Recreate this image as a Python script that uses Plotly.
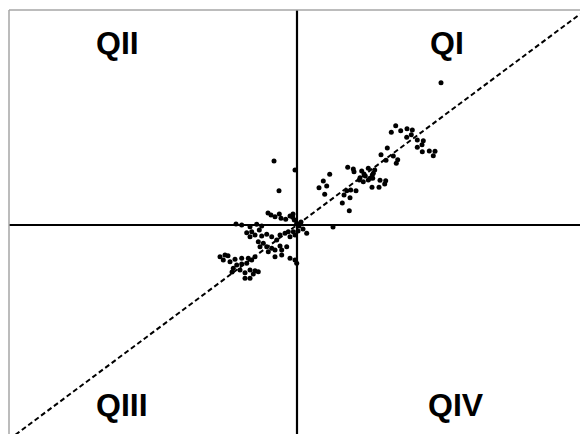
import plotly.graph_objects as go

# Scatter data (x, y)
x_vals = [
    9.87, 9.43, 10.37, 11.0, 11.53, 10.97, 11.43, 12.03, 12.63, 12.5, 12.03, 12.53, 13.23, 13.8, 13.63,
    9.03, 8.4, 8.9, 9.63, 10.07, 9.93,
    5.07, 5.63, 5.7, 6.47, 7.13, 7.77, 7.63, 6.3, 6.83, 6.23, 6.63, 7.13, 7.57, 8.3, 8.87, 8.77, 8.2, 7.5,
    6.7, 7.3, 7.53,
    3.27, 2.63, 2.97, 2.2, 2.77, 4.97, 5.37, 5.9, 4.7, 5.3, 4.53, 5.23,
    14.4,
    -2.3, -0.2, -1.8, 3.6, 0.97,
    -2.9, -2.6, -2.2, -1.77, -1.6, -1.13, -0.7, -0.43, -0.27, -0.03, -0.4,
    -6.1, -5.53, -4.7, -4.03, -3.53,
    0.2, 0.4, 0.6, 0.1,
    -5.03, -4.53, -3.77, -4.2, -3.53, -3.03, -2.53, -2.03, -1.7, -1.2, -0.87, -0.7, -0.37, -0.2, -4.7,
    -3.87, -3.37, -3.7, -3.03, -2.53, -2.87, -2.2, -1.7, -1.53, -1.03, -1.53, -2.2, -0.7, -0.2, -0.03,
    -7.7, -7.2, -6.9, -7.37, -6.7, -6.2, -5.53, -4.87, -4.53, -4.2,
    -6.03, -5.53, -5.03, -6.37, -5.7, -5.2, -4.7, -4.2, -3.87, -4.37, -4.7, -5.2, -6.5,
]
y_vals = [
    9.93, 9.27, 9.43, 9.63, 9.5, 8.77, 9.03, 8.5, 8.43, 8.03, 7.77, 7.33, 7.4, 7.37, 6.93,
    7.7, 7.03, 6.47, 6.9, 6.53, 6.17,
    5.77, 5.6, 5.33, 5.4, 5.67, 5.5, 5.17, 4.73, 4.9, 4.5, 4.33, 4.5, 4.67, 4.47, 4.43, 4.1, 3.77, 3.77,
    5.1, 4.67, 5.0,
    5.07, 4.4, 3.9, 3.73, 3.07, 3.43, 3.5, 3.43, 3.0, 2.73, 2.2, 1.43,
    14.23,
    6.4, 5.5, 3.43, -0.2, -0.83,
    1.2, 1.0, 0.83, 1.1, 0.67, 0.57, 0.9, 0.77, 0.5, 0.17, 1.1,
    0.1, 0.0, -0.17, 0.07, -0.1,
    -0.1, 0.3, -0.4, -0.6,
    -0.77, -0.67, -0.5, -1.0, -1.1, -0.93, -1.17, -1.5, -1.0, -0.83, -0.67, -1.17, -0.67, -1.0, -1.17,
    -1.67, -1.83, -2.17, -2.17, -2.33, -2.67, -2.5, -2.1, -2.5, -2.17, -3.0, -3.17, -3.33, -3.5, -3.83,
    -3.17, -3.0, -3.07, -3.5, -3.67, -3.43, -3.33, -3.33, -3.5, -3.17,
    -4.0, -3.9, -3.83, -4.33, -4.5, -4.77, -4.5, -4.57, -4.67, -4.9, -5.33, -5.33, -4.7,
]

fit_slope = 0.745

quad_labels = ["QI", "QII", "QIII", "QIV"]
quad_x = [15.0, -18.0, -17.5, 15.9]
quad_y = [18.2, 18.2, -18.0, -18.0]

x_range = [-28.8, 28.3]
y_range = [-20.9, 21.5]

fig = go.Figure()

fig.add_trace(go.Scatter(
    x=[x_range[0], x_range[1]],
    y=[fit_slope * x_range[0], fit_slope * x_range[1]],
    mode="lines",
    line=dict(color="black", width=2, dash="5px,3px"),
    hoverinfo="skip",
))

fig.add_trace(go.Scatter(
    x=x_vals, y=y_vals, mode="markers",
    marker=dict(color="black", size=5, line=dict(width=0)),
))

shapes = [
    dict(type="line", xref="x", yref="paper", x0=0, x1=0, y0=0, y1=1,
         line=dict(color="black", width=2.2)),
    dict(type="line", xref="paper", yref="y", x0=0, x1=1, y0=0, y1=0,
         line=dict(color="black", width=2.2)),
    dict(type="line", xref="paper", yref="paper", x0=0, x1=1, y0=1, y1=1,
         line=dict(color="#a6a6a6", width=1.5)),
    dict(type="line", xref="paper", yref="paper", x0=0, x1=0, y0=0, y1=1,
         line=dict(color="#a6a6a6", width=1.5)),
]

annotations = [
    dict(x=qx, y=qy, xref="x", yref="y", text=f"<b>{t}</b>", showarrow=False,
         font=dict(family="Liberation Sans", size=32, color="black"))
    for t, qx, qy in zip(quad_labels, quad_x, quad_y)
]

fig.update_layout(
    width=580, height=434,
    margin=dict(l=9, r=0, t=10, b=0),
    paper_bgcolor="white", plot_bgcolor="white",
    showlegend=False,
    xaxis=dict(range=x_range, visible=False, showgrid=False, zeroline=False),
    yaxis=dict(range=y_range, visible=False, showgrid=False, zeroline=False),
    shapes=shapes,
    annotations=annotations,
)

fig.write_html(
    "out.html",
    config={"displayModeBar": False},
    post_script="document.body.style.margin='0';document.body.style.overflow='hidden';",
)
